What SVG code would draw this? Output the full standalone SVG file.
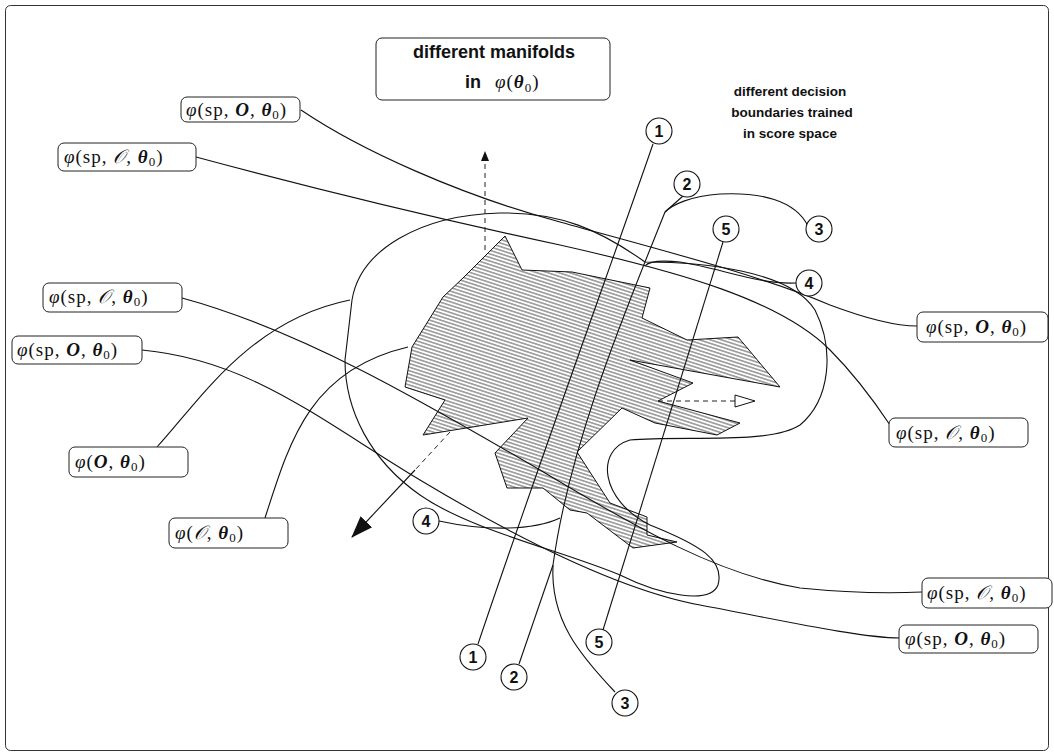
<svg xmlns="http://www.w3.org/2000/svg" width="1054" height="756" viewBox="0 0 1054 756">
<defs>
<style>
.frame{fill:#fff;stroke:#333;stroke-width:1}
.box{fill:#fff;stroke:#222;stroke-width:1}
.ln{fill:none;stroke:#111;stroke-width:1.1}
.dash{fill:none;stroke:#222;stroke-width:1;stroke-dasharray:5,4}
.circ{fill:#fff;stroke:#111;stroke-width:1.1}
.num{font-family:"Liberation Sans",Arial,sans-serif;font-weight:bold;font-size:16px;text-anchor:middle;fill:#111}
.lbl{font-family:"Liberation Serif","DejaVu Serif",serif;font-size:19px;fill:#111;letter-spacing:1px}
.b{font-weight:bold;font-style:italic}
.ph{font-style:italic}
.sub{font-size:13px}
.head{font-family:"Liberation Sans",Arial,sans-serif;font-weight:bold;font-size:18px;fill:#111}
.note{font-family:"Liberation Sans",Arial,sans-serif;font-weight:bold;font-size:13.5px;fill:#111;text-anchor:middle}
.hatch{fill:url(#hp);stroke:#111;stroke-width:1}
</style>
<pattern id="hp" patternUnits="userSpaceOnUse" width="12" height="3.4" patternTransform="rotate(18)">
<line x1="0" y1="1.7" x2="12" y2="1.7" stroke="#222" stroke-width="0.8"/>
</pattern>
<marker id="af" markerWidth="10" markerHeight="10" refX="9" refY="5" orient="auto" markerUnits="userSpaceOnUse"><path d="M0,1 L10,5 L0,9 Z" fill="#111"/></marker>
<marker id="afl" markerWidth="22" markerHeight="18" refX="21" refY="9" orient="auto" markerUnits="userSpaceOnUse"><path d="M0,1 L22,9 L0,17 Z" fill="#111"/></marker>
</defs>
<rect class="frame" x="5.5" y="5.5" width="1043" height="745" rx="5"/>

<g id="region-hatched">
<polygon class="hatch" points="505,236 522,270 572,272 650,288 642,318 687,340 738,337 780,387 630,360 693,383 658,401 740,423 717,435 655,423 622,408 577,452 610,503 647,517 647,535 677,542 633,548 587,513 570,510 543,488 507,488 495,453 528,418 423,435 445,400 405,387 412,347 443,297 463,278"/>
</g>

<g id="connectors">
<path class="ln" d="M301 110 C360 150, 460 195, 560 222 C660 250, 760 275, 830 305 C870 320, 900 326, 917 326"/>
<path class="ln" d="M196 157 C300 185, 420 215, 560 245 C680 272, 780 300, 830 350 C860 380, 880 410, 890 425"/>
<path class="ln" d="M182 298 C300 330, 420 400, 540 470 C640 530, 720 575, 800 588 C860 594, 900 593, 922 592"/>
<path class="ln" d="M142 350 C250 360, 320 420, 420 480 C520 540, 620 590, 700 605 C780 620, 860 638, 900 638"/>
<path class="ln" d="M352 300 C360 250, 420 215, 500 213 C560 212, 600 230, 645 262 C700 262, 790 270, 815 310 C835 350, 830 400, 800 425 C770 445, 680 435, 630 440 C595 450, 600 500, 650 525 C700 545, 725 560, 718 585 C710 605, 660 595, 620 575 C560 550, 470 530, 420 495 C370 460, 345 410, 345 360 Z"/>
<path class="ln" d="M157 447 C200 400, 250 320, 350 300"/>
<path class="ln" d="M265 518 C290 440, 310 370, 408 347"/>
<path class="ln" d="M653 144 C620 240, 540 460, 478 644"/>
<path class="ln" d="M665 212 C630 300, 570 440, 553 565"/>
<path class="ln" d="M683 196 L665 212"/>
<path class="ln" d="M808 226 C795 200, 760 192, 720 194 C690 196, 672 205, 665 212"/>
<path class="ln" d="M796 283 C760 285, 720 268, 680 262 C660 260, 648 262, 645 266"/>
<path class="ln" d="M439 521 C480 530, 530 532, 560 518"/>
<path class="ln" d="M553 565 L519 664"/>
<path class="ln" d="M553 565 C550 620, 580 655, 615 692"/>
<path class="ln" d="M723 242 L603 630"/>
<path class="dash" d="M485 250 L485 152" marker-end="url(#af)"/>
<path class="dash" d="M658 401 L735 401"/>
<polygon points="735,395 755,401 735,407" fill="#fff" stroke="#111" stroke-width="1"/>
<path class="dash" d="M450 432 L415 470"/>
<path class="ln" d="M415 470 L352 537" marker-end="url(#afl)"/>
</g>

<g id="title">
<rect class="box" x="376" y="38" width="234" height="62" rx="6"/>
<text class="head" x="494" y="58" text-anchor="middle">different manifolds</text>
<text class="head" x="465" y="88">in</text>
<text class="lbl" x="495" y="88" font-size="24" letter-spacing="1.5"><tspan class="ph">φ</tspan>(<tspan class="b">θ</tspan><tspan class="sub" font-size="16" dy="4">0</tspan><tspan dy="-4">)</tspan></text>
</g>

<g id="note">
<text class="note" x="790" y="96">different decision</text>
<text class="note" x="792" y="117">boundaries trained</text>
<text class="note" x="790" y="138">in score space</text>
</g>

<g id="label-A"><rect class="box" x="181" y="97" width="119" height="25" rx="6"/><text class="lbl" x="186" y="116"><tspan class="ph">φ</tspan>(sp, <tspan class="b">O</tspan>, <tspan class="b">θ</tspan><tspan class="sub" dy="3">0</tspan><tspan dy="-3">)</tspan></text></g>
<g id="label-B"><rect class="box" x="58" y="143" width="138" height="28" rx="6"/><text class="lbl" x="64" y="163"><tspan class="ph">φ</tspan>(sp, <tspan class="ph">𝒪</tspan>, <tspan class="b">θ</tspan><tspan class="sub" dy="3">0</tspan><tspan dy="-3">)</tspan></text></g>
<g id="label-C"><rect class="box" x="43" y="283" width="139" height="29" rx="6"/><text class="lbl" x="49" y="303"><tspan class="ph">φ</tspan>(sp, <tspan class="ph">𝒪</tspan>, <tspan class="b">θ</tspan><tspan class="sub" dy="3">0</tspan><tspan dy="-3">)</tspan></text></g>
<g id="label-D"><rect class="box" x="12" y="336" width="130" height="28" rx="6"/><text class="lbl" x="17" y="356"><tspan class="ph">φ</tspan>(sp, <tspan class="b">O</tspan>, <tspan class="b">θ</tspan><tspan class="sub" dy="3">0</tspan><tspan dy="-3">)</tspan></text></g>
<g id="label-E"><rect class="box" x="69" y="447" width="119" height="30" rx="6"/><text class="lbl" x="75" y="468"><tspan class="ph">φ</tspan>(<tspan class="b">O</tspan>, <tspan class="b">θ</tspan><tspan class="sub" dy="3">0</tspan><tspan dy="-3">)</tspan></text></g>
<g id="label-F"><rect class="box" x="169" y="518" width="119" height="30" rx="6"/><text class="lbl" x="175" y="539"><tspan class="ph">φ</tspan>(<tspan class="ph">𝒪</tspan>, <tspan class="b">θ</tspan><tspan class="sub" dy="3">0</tspan><tspan dy="-3">)</tspan></text></g>
<g id="label-G"><rect class="box" x="917" y="312" width="131" height="30" rx="6"/><text class="lbl" x="926" y="333"><tspan class="ph">φ</tspan>(sp, <tspan class="b">O</tspan>, <tspan class="b">θ</tspan><tspan class="sub" dy="3">0</tspan><tspan dy="-3">)</tspan></text></g>
<g id="label-H"><rect class="box" x="889" y="418" width="139" height="29" rx="6"/><text class="lbl" x="896" y="439"><tspan class="ph">φ</tspan>(sp, <tspan class="ph">𝒪</tspan>, <tspan class="b">θ</tspan><tspan class="sub" dy="3">0</tspan><tspan dy="-3">)</tspan></text></g>
<g id="label-I"><rect class="box" x="922" y="578" width="130" height="30" rx="6"/><text class="lbl" x="927" y="599"><tspan class="ph">φ</tspan>(sp, <tspan class="ph">𝒪</tspan>, <tspan class="b">θ</tspan><tspan class="sub" dy="3">0</tspan><tspan dy="-3">)</tspan></text></g>
<g id="label-J"><rect class="box" x="899" y="625" width="139" height="28" rx="6"/><text class="lbl" x="905" y="645"><tspan class="ph">φ</tspan>(sp, <tspan class="b">O</tspan>, <tspan class="b">θ</tspan><tspan class="sub" dy="3">0</tspan><tspan dy="-3">)</tspan></text></g>

<g id="circ-1a"><circle class="circ" cx="659" cy="131" r="13"/><text class="num" x="659" y="137">1</text></g>
<g id="circ-2a"><circle class="circ" cx="687" cy="184" r="13"/><text class="num" x="687" y="190">2</text></g>
<g id="circ-3a"><circle class="circ" cx="819" cy="229" r="13"/><text class="num" x="819" y="235">3</text></g>
<g id="circ-5a"><circle class="circ" cx="726" cy="229" r="13"/><text class="num" x="726" y="235">5</text></g>
<g id="circ-4a"><circle class="circ" cx="809" cy="283" r="13"/><text class="num" x="809" y="289">4</text></g>
<g id="circ-4b"><circle class="circ" cx="426" cy="521" r="13"/><text class="num" x="426" y="527">4</text></g>
<g id="circ-1b"><circle class="circ" cx="473" cy="657" r="13"/><text class="num" x="473" y="663">1</text></g>
<g id="circ-2b"><circle class="circ" cx="514" cy="677" r="13"/><text class="num" x="514" y="683">2</text></g>
<g id="circ-5b"><circle class="circ" cx="599" cy="642" r="13"/><text class="num" x="599" y="648">5</text></g>
<g id="circ-3b"><circle class="circ" cx="625" cy="703" r="13"/><text class="num" x="625" y="709">3</text></g>
</svg>
